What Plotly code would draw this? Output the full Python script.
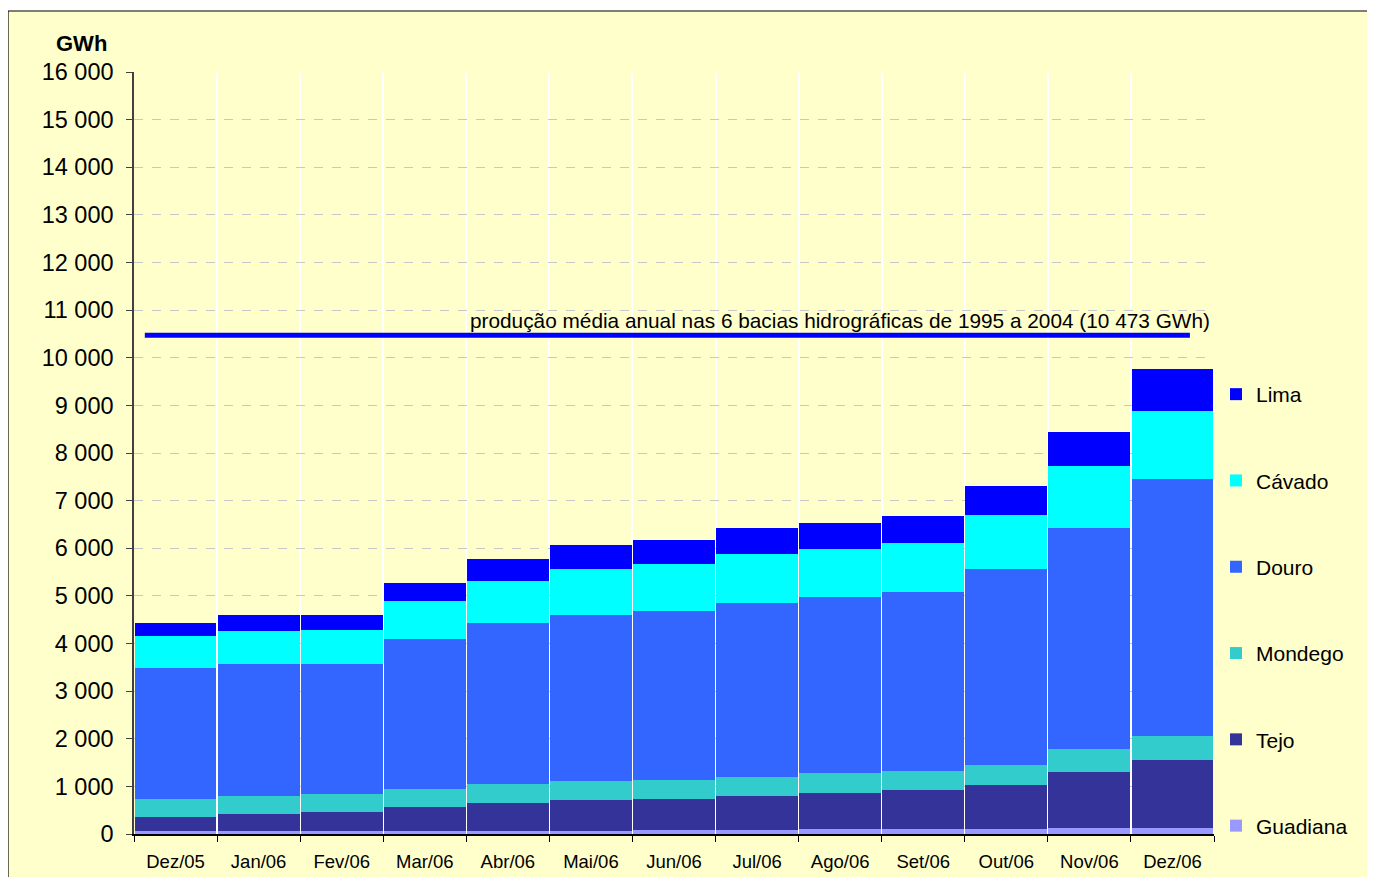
import plotly.graph_objects as go

months = ["Dez/05", "Jan/06", "Fev/06", "Mar/06", "Abr/06", "Mai/06", "Jun/06",
          "Jul/06", "Ago/06", "Set/06", "Out/06", "Nov/06", "Dez/06"]
guadiana = [60, 60, 60, 65, 65, 70, 84, 84, 105, 105, 105, 126, 126]
tejo = [300, 360, 409, 502, 586, 644, 651, 714, 756, 819, 924, 1176, 1428]
mondego = [378, 378, 371, 378, 399, 399, 399, 399, 420, 399, 420, 483, 504]
douro = [2751, 2772, 2730, 3149, 3380, 3485, 3548, 3653, 3695, 3758, 4115, 4640, 5396]
cavado = [671, 692, 713, 798, 882, 966, 987, 1029, 1008, 1029, 1134, 1302, 1428]
lima = [273, 336, 315, 378, 462, 504, 504, 546, 546, 567, 609, 714, 882]
media_anual = 10473
line_label = "produção média anual nas 6 bacias hidrográficas de 1995 a 2004 (10 473 GWh)"

series = [
    ("Guadiana", guadiana, "#9999FF"),
    ("Tejo", tejo, "#333399"),
    ("Mondego", mondego, "#33CCCC"),
    ("Douro", douro, "#3366FF"),
    ("Cávado", cavado, "#00FFFF"),
    ("Lima", lima, "#0000FF"),
]

FONT = "Liberation Sans, Arial, sans-serif"
fig = go.Figure()
n = len(series)
for i, (name, vals, col) in enumerate(series):
    fig.add_trace(go.Bar(x=months, y=vals, name=name, marker_color=col,
                         marker_line_width=0, legendgroup=name,
                         legendrank=n - i,
                         hoverinfo="x+y+name"))

# average line on an overlaid numeric axis
fig.add_trace(go.Scatter(x=[-0.37, 12.21], y=[media_anual, media_anual],
                         xaxis="x2", mode="lines",
                         line=dict(color="#0000FF", width=5),
                         showlegend=False, hoverinfo="skip"))

# page offset (body margin) of 8px
OFF = 8
W, H = 1375 - OFF, 877 - OFF
# target plot area in screen coords: x 134-1214, y 72-834
L, T = 134 - OFF, 72 - OFF
R = W - (1214 - OFF)
B = H - (834 - OFF)
pw, ph = W - L - R, H - T - B

def px(x):
    return (x - OFF - L) / pw

def py(y):
    return (H - B - (y - OFF)) / ph

fig.add_shape(type="rect", xref="paper", yref="paper",
              x0=px(8), x1=px(1420), y0=py(920), y1=py(11),
              line=dict(width=0), fillcolor="#FFFFCC", layer="below")
fig.add_shape(type="line", xref="paper", yref="paper",
              x0=px(8), x1=px(1420), y0=py(11), y1=py(11),
              line=dict(color="black", width=1.2), layer="below")
fig.add_shape(type="line", xref="paper", yref="paper",
              x0=px(8), x1=px(8), y0=py(920), y1=py(11),
              line=dict(color="black", width=1.2), layer="below")

fig.add_annotation(xref="paper", yref="paper", x=px(109), y=py(43),
                   text="<b>GWh</b>", showarrow=False, xanchor="right", yanchor="middle",
                   font=dict(size=22, color="black", family=FONT))
fig.add_annotation(xref="paper", yref="y", x=px(1212), y=media_anual, yshift=15,
                   text=line_label,
                   showarrow=False, xanchor="right", yanchor="middle",
                   font=dict(size=20.8, color="black", family=FONT))

fig.update_layout(
    width=W, height=H,
    margin=dict(l=L, r=R, t=T, b=B, autoexpand=False),
    barmode="stack", bargap=0.015,
    paper_bgcolor="white", plot_bgcolor="#FFFFCC",
    separators=", ",
    font=dict(family=FONT, color="black"),
    showlegend=True,
    legend=dict(x=px(1216), y=py(374), xanchor="left", yanchor="top",
                traceorder="grouped", tracegroupgap=56,
                font=dict(size=21, family=FONT), bgcolor="rgba(0,0,0,0)",
                itemwidth=30),
    xaxis=dict(type="category", range=[-0.5, 12.5], tickson="boundaries",
               ticks="outside", ticklen=6, tickcolor="black",
               showline=True, linecolor="black", linewidth=1.5,
               showgrid=True, gridcolor="white", gridwidth=1.5,
               ticklabelstandoff=10,
               tickfont=dict(size=18.5, family=FONT), fixedrange=True),
    xaxis2=dict(overlaying="x", range=[-0.5, 12.5], visible=False, fixedrange=True),
    yaxis=dict(range=[0, 16000], dtick=1000, tickformat=",d",
               ticks="outside", ticklen=6, tickcolor="#404040",
               showline=True, linecolor="#404040", linewidth=1.5,
               showgrid=True, gridcolor="#C8C8C8", griddash="dash", gridwidth=1,
               ticklabelstandoff=8,
               tickfont=dict(size=23.5, family=FONT), zeroline=False, fixedrange=True),
)

fig.write_html("out.html")
